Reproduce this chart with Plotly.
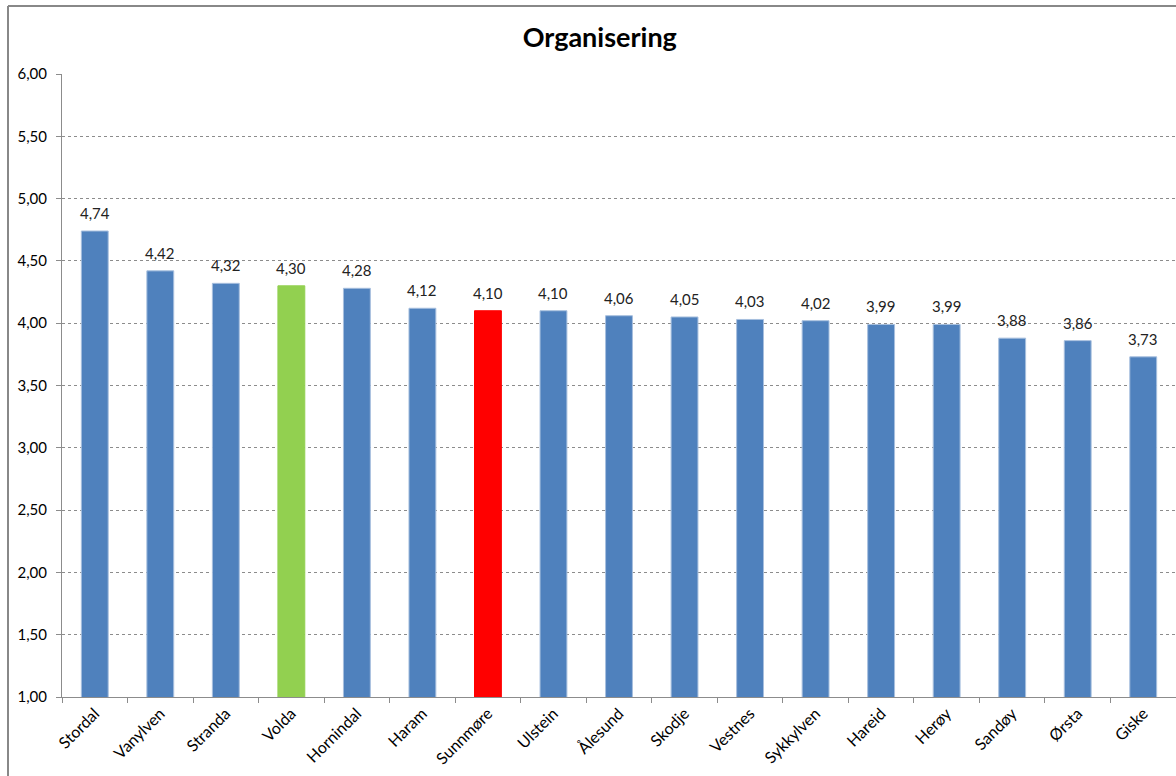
import plotly.graph_objects as go

# kommunar og gjennomsnittsverdi
kommunar = ["Stordal", "Vanylven", "Stranda", "Volda", "Hornindal", "Haram", "Sunnmøre",
            "Ulstein", "Ålesund", "Skodje", "Vestnes", "Sykkylven", "Hareid", "Herøy",
            "Sandøy", "Ørsta", "Giske"]
verdiar = [4.74, 4.42, 4.32, 4.30, 4.28, 4.12, 4.10, 4.10, 4.06, 4.05, 4.03, 4.02,
           3.99, 3.99, 3.88, 3.86, 3.73]
y_ticks = [1.0, 1.5, 2.0, 2.5, 3.0, 3.5, 4.0, 4.5, 5.0, 5.5, 6.0]

# fargar: Volda grøn, Sunnmøre raud, resten blå
farge = {"Volda": "#92D050", "Sunnmøre": "#FF0000"}
fargar = [farge.get(k, "#4F81BD") for k in kommunar]
kantar = [farge.get(k, "#A7BFDE") for k in kommunar]

W, H = 1176, 776
ml, mr, mt, mb = 62, 0, 74, 79

fig = go.Figure()
fig.add_trace(go.Bar(
    x=kommunar, y=verdiar,
    marker=dict(color=fargar, line=dict(color=kantar, width=1)),
    width=0.41,
))

# dataetikettar over stolpane
for k, v in zip(kommunar, verdiar):
    fig.add_annotation(x=k, y=v, text=f"{v:.2f}".replace(".", ","), showarrow=False,
                       yanchor="bottom", yshift=7, font=dict(size=15, color="#222222"))

fig.update_layout(
    width=W, height=H,
    margin=dict(l=ml, r=mr, t=mt, b=mb),
    separators=", ",
    plot_bgcolor="white", paper_bgcolor="white",
    font=dict(family="Lato, Open Sans, sans-serif", size=15, color="#000000"),
    title=dict(text="<b>Organisering</b>", x=0.51, xanchor="center", y=0.951, yanchor="middle",
               font=dict(size=27, color="#000000")),
    showlegend=False,
)
fig.update_yaxes(range=[1, 6], tickvals=y_ticks, tickformat=".2f",
                 showgrid=True, gridcolor="#8C8C8C", griddash="dot", gridwidth=1,
                 showline=True, linecolor="#8C8C8C", linewidth=1,
                 ticks="outside", ticklen=5, tickcolor="#8C8C8C", zeroline=False,
                 ticklabelstandoff=6, tickfont=dict(size=15))
fig.update_xaxes(tickangle=-45, showline=True, linecolor="#8C8C8C", linewidth=1,
                 ticks="outside", ticklen=5, tickcolor="#8C8C8C", tickson="boundaries",
                 tickfont=dict(size=16))

# ramme rundt diagrammet: berre venstre og øvre kant er synlege
pw, ph = W - ml - mr, H - mt - mb
fx, fy = (8 - ml) / pw, (H - 6 - mb) / ph
fig.add_shape(type="line", xref="paper", yref="paper", x0=fx, x1=fx, y0=-0.5, y1=fy,
              line=dict(color="#888888", width=2), layer="below")
fig.add_shape(type="line", xref="paper", yref="paper", x0=fx, x1=1.3, y0=fy, y1=fy,
              line=dict(color="#888888", width=2), layer="below")

# ingen marg eller rullefelt rundt figuren på sida
fig.write_html("out.html", config={"displayModeBar": False},
               post_script="document.body.style.margin='0';"
                           "document.body.style.overflow='hidden';")
